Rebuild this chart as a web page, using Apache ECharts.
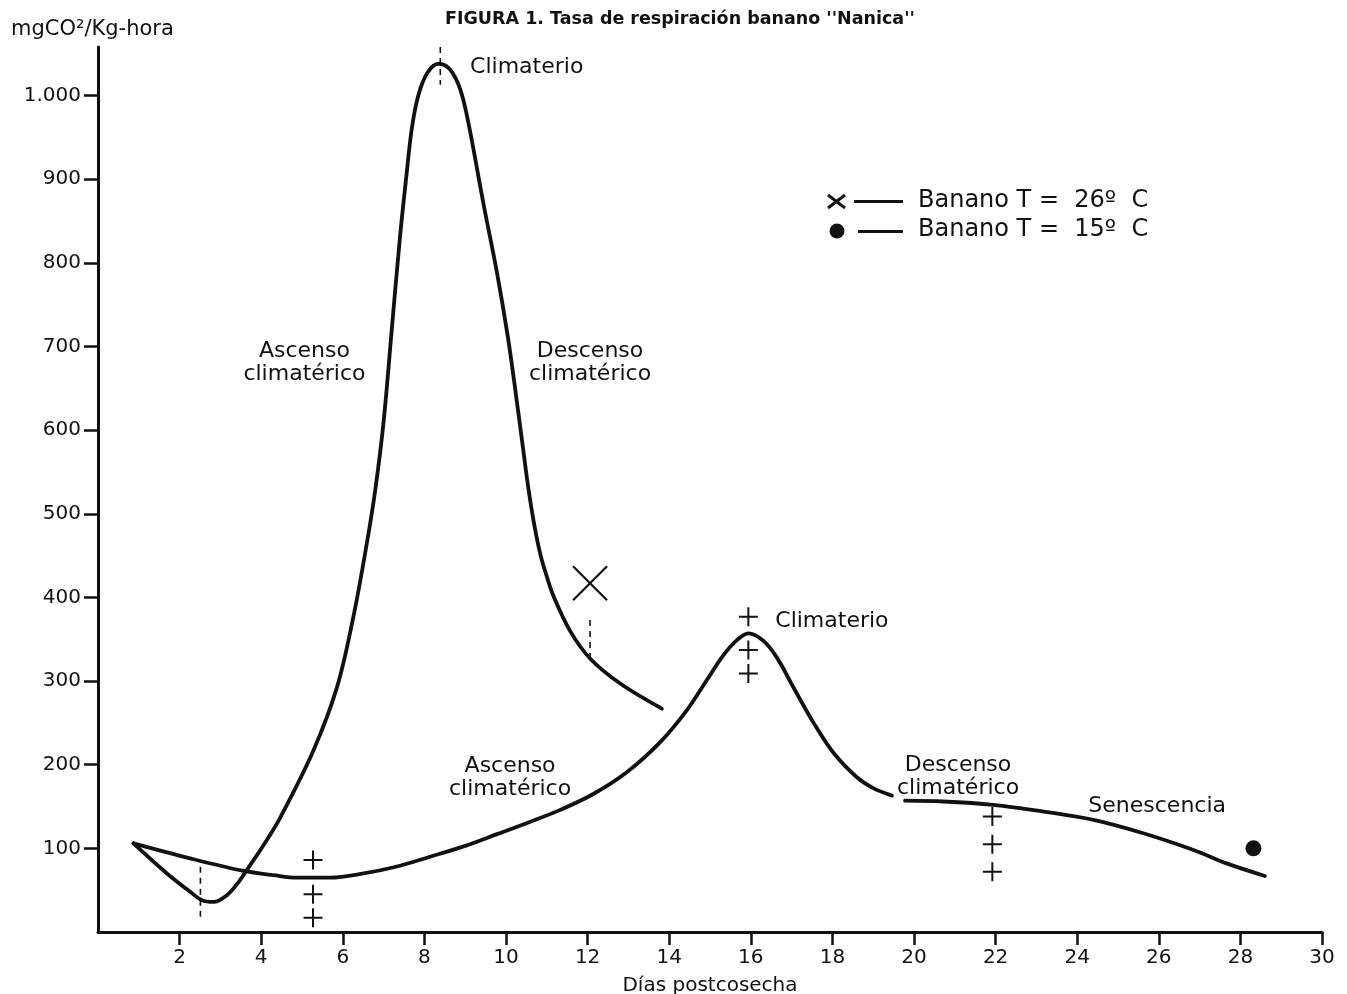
<!DOCTYPE html>
<html>
<head>
<meta charset="utf-8">
<script src="https://cdn.jsdelivr.net/npm/echarts@6/dist/echarts.min.js"></script>
<style>html,body{margin:0;padding:0;background:#fff}#chart{width:1347px;height:994px}</style>
</head>
<body>
<div id="chart"></div>
<script>
// ---- data ----
const days26 = [0.87, 1.69, 2.26, 2.55, 2.83, 3.16, 3.45, 3.73, 4.10, 4.47, 5.28, 5.86, 6.26, 6.59, 6.80, 7.00, 7.20, 7.40, 7.55, 7.69, 7.85, 8.07, 8.35, 8.63, 8.88, 9.08, 9.45, 9.78, 10.05, 10.25, 10.40, 10.55, 10.70, 10.85, 11.00, 11.16, 11.57, 12.06, 12.80, 13.82];
const rate26 = [106, 70, 48, 38, 36, 44, 60, 80, 107, 137, 217, 293, 377, 465, 530, 610, 720, 830, 900, 960, 1000, 1027, 1038, 1031, 1007, 967, 870, 788, 710, 640, 585, 530, 485, 450, 425, 402, 360, 327, 297, 267];

const days15 = [0.87, 2.26, 3.57, 4.30, 4.88, 5.69, 6.51, 7.30, 8.14, 9.00, 9.78, 10.55, 11.33, 12.14, 12.96, 13.78, 14.43, 14.92, 15.33, 15.66, 15.94, 16.31, 16.64, 17.05, 17.54, 18.03, 18.60, 19.00, 19.46, 19.62, 19.78, 20.72, 21.94, 23.17, 24.40, 25.62, 26.85, 27.66, 28.60];
const rate15 = [106, 88, 73, 68, 65, 65, 70, 78, 90, 103, 117, 131, 146, 165, 191, 227, 265, 301, 331, 349, 357, 348, 328, 292, 250, 214, 185, 172, 163, null, 157, 156, 152, 144, 134, 118, 98, 82, 67];

const plusDays = [5.27, 5.27, 5.27, 15.94, 15.94, 15.94, 21.92, 21.92, 21.92];
const plusRates = [86, 45, 17, 377, 337, 309, 138, 105, 72];
const crossDays = [12.06];
const crossRates = [417];
const dotDays = [28.32];
const dotRates = [100];

const guideDays = [8.39, 2.51, 12.06];
const guideTop = [1058, 78, 373];
const guideBottom = [1013, 16, 327];

const noteDays = [9.12, 5.06, 12.06, 16.60, 10.10, 21.08, 25.96];
const noteRates = [1034, 680, 680, 371, 184, 186, 150];
const noteTexts = ['Climaterio', 'Ascenso\nclimatérico', 'Descenso\nclimatérico', 'Climaterio', 'Ascenso\nclimatérico', 'Descenso\nclimatérico', 'Senescencia'];
const noteAlign = ['left', 'center', 'center', 'left', 'center', 'center', 'center'];

const legendTexts = ['Banano T =  26º  C', 'Banano T =  15º  C'];
const titleText = "FIGURA 1. Tasa de respiración banano ''Nanica''";
const yName = 'mgCO²/Kg-hora';
const xName = 'Días postcosecha';
const xTicks = [2, 4, 6, 8, 10, 12, 14, 16, 18, 20, 22, 24, 26, 28, 30];
const yTicks = [100, 200, 300, 400, 500, 600, 700, 800, 900, 1000];

// ---- build ----
const FONT = 'DejaVu Sans';
const zip = (a, b) => a.map((d, i) => [d, b[i] === null ? '-' : b[i]]);
const ink = '#111';

const guideSeries = guideDays.map((d, i) => ({
  type: 'line', silent: true, symbol: 'none', z: 3,
  data: [[d, guideTop[i]], [d, guideBottom[i]]],
  lineStyle: { color: ink, width: 1.6, type: [6, 5] }
}));

const chart = echarts.init(document.getElementById('chart'), null, { renderer: 'canvas' });
chart.setOption({
  backgroundColor: '#fff',
  animation: false,
  textStyle: { fontFamily: FONT, color: ink },
  title: [
    { text: titleText, left: 440, top: 5, textStyle: { fontFamily: FONT, fontSize: 17.5, fontWeight: 'bold', color: ink } },
    { text: yName, left: 6, top: 14, textStyle: { fontFamily: FONT, fontSize: 21, fontWeight: 'normal', color: ink } }
  ],
  grid: { left: 98, right: 25, top: 47, bottom: 62, containLabel: false, outerBoundsMode: 'none' },
  xAxis: {
    type: 'value', min: 0, max: 30, interval: 2,
    name: xName, nameLocation: 'middle', nameGap: 44,
    nameTextStyle: { fontFamily: FONT, fontSize: 20, color: ink },
    axisLine: { show: true, lineStyle: { color: ink, width: 3 } },
    axisTick: { show: true, length: 13, lineStyle: { color: ink, width: 2.5 }, customValues: xTicks },
    axisLabel: { margin: 16, fontFamily: FONT, fontSize: 20, color: ink, customValues: xTicks,
      formatter: v => (v === 0 ? '' : String(v)) },
    splitLine: { show: false }
  },
  yAxis: {
    type: 'value', min: 0, max: 1058, interval: 100,
    axisLine: { show: true, lineStyle: { color: ink, width: 3 } },
    axisTick: { show: true, length: 14, lineStyle: { color: ink, width: 2.5 }, customValues: yTicks },
    axisLabel: { margin: 17, fontFamily: FONT, fontSize: 20, color: ink, customValues: yTicks,
      formatter: v => (v === 0 ? '' : (v === 1000 ? '1.000' : String(v))) },
    splitLine: { show: false }
  },
  series: [
    { name: legendTexts[0], type: 'line', data: zip(days26, rate26), smooth: 0.35, symbol: 'none', z: 5,
      lineStyle: { color: ink, width: 3.8, cap: 'round', join: 'round' } },
    { name: legendTexts[1], type: 'line', data: zip(days15, rate15), smooth: 0.35, symbol: 'none', z: 5, connectNulls: false,
      lineStyle: { color: ink, width: 3.8, cap: 'round', join: 'round' } },
    ...guideSeries,
    { type: 'scatter', silent: true, data: zip(plusDays, plusRates), symbol: 'path://M5,0L5,10M0,5L10,5', symbolSize: 19,
      itemStyle: { color: 'none', borderColor: ink, borderWidth: 2, opacity: 1 }, z: 6 },
    { type: 'scatter', silent: true, data: zip(crossDays, crossRates), symbol: 'path://M0,0L10,10M10,0L0,10', symbolSize: 34,
      itemStyle: { color: 'none', borderColor: ink, borderWidth: 2.2, opacity: 1 }, z: 6 },
    { type: 'scatter', silent: true, data: zip(dotDays, dotRates), symbol: 'circle', symbolSize: 16,
      itemStyle: { color: ink, opacity: 1 }, z: 6 },
    { type: 'scatter', silent: true, symbolSize: 0, z: 7, itemStyle: { opacity: 1 },
      data: noteDays.map((d, i) => ({ value: [d, noteRates[i]], label: { formatter: noteTexts[i], align: noteAlign[i] } })),
      label: { show: true, position: 'inside', fontFamily: FONT, fontSize: 22, lineHeight: 23, color: ink, opacity: 1, verticalAlign: 'middle' } }
  ],
  graphic: [
    { type: 'line', shape: { x1: 828, y1: 195, x2: 845, y2: 208 }, style: { stroke: ink, lineWidth: 3 } },
    { type: 'line', shape: { x1: 845, y1: 195, x2: 828, y2: 208 }, style: { stroke: ink, lineWidth: 3 } },
    { type: 'line', shape: { x1: 854, y1: 201.5, x2: 903, y2: 201.5 }, style: { stroke: ink, lineWidth: 3 } },
    { type: 'text', x: 918, y: 201, style: { text: legendTexts[0], font: '24px "DejaVu Sans"', fill: ink, verticalAlign: 'middle' } },
    { type: 'circle', shape: { cx: 837, cy: 231, r: 7.5 }, style: { fill: ink } },
    { type: 'line', shape: { x1: 858, y1: 231.5, x2: 903, y2: 231.5 }, style: { stroke: ink, lineWidth: 3 } },
    { type: 'text', x: 918, y: 230, style: { text: legendTexts[1], font: '24px "DejaVu Sans"', fill: ink, verticalAlign: 'middle' } }
  ]
});
</script>
</body>
</html>
